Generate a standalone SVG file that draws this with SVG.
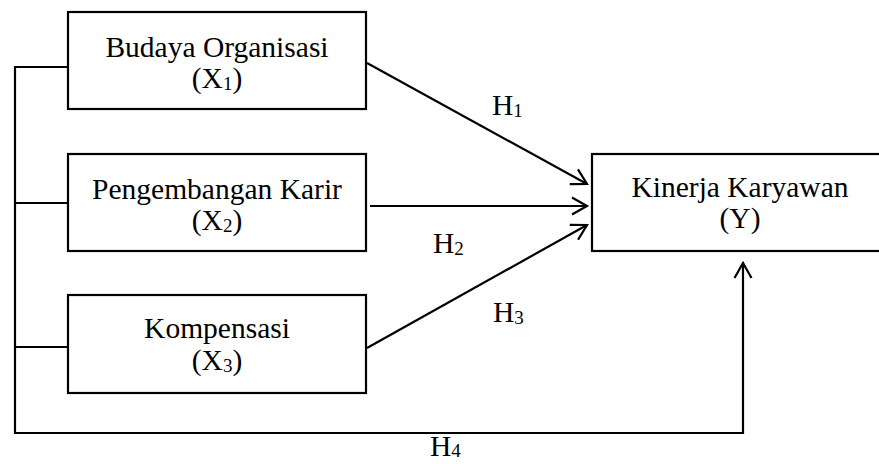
<svg xmlns="http://www.w3.org/2000/svg" width="879" height="464" viewBox="0 0 879 464">
<style>
.box{fill:#fff;stroke:#000;stroke-width:2.2}
.t{font-family:"Liberation Serif","Times New Roman",serif;font-size:29.5px;fill:#000;text-anchor:middle}
.h{font-family:"Liberation Serif","Times New Roman",serif;font-size:29.5px;fill:#000}
.sub{font-size:19px}
.ln{fill:none;stroke:#000;stroke-width:2.2}
</style>
<defs>
<marker id="arr" markerUnits="userSpaceOnUse" markerWidth="30" markerHeight="30" viewBox="-20 -15 30 30" refX="0" refY="0" orient="auto">
<path d="M-15,-8.5 L0,0 L-15,8.5" fill="none" stroke="#000" stroke-width="2.2"/>
</marker>
</defs>
<rect width="879" height="464" fill="#fff"/>
<g id="connectors">
<path class="ln" d="M15,67 L15,433 L743,433"/>
<line class="ln" x1="14" y1="67" x2="68" y2="67"/>
<line class="ln" x1="15" y1="203" x2="68" y2="203"/>
<line class="ln" x1="15" y1="347" x2="68" y2="347"/>
<line class="ln" x1="367" y1="63" x2="587" y2="184" marker-end="url(#arr)"/>
<line class="ln" x1="370" y1="206" x2="587" y2="206" marker-end="url(#arr)"/>
<line class="ln" x1="367" y1="348" x2="587" y2="225" marker-end="url(#arr)"/>
<line class="ln" x1="743" y1="434" x2="743" y2="263" marker-end="url(#arr)"/>
<text class="h" x="492" y="115">H<tspan class="sub" dy="2">1</tspan></text>
<text class="h" x="433" y="253">H<tspan class="sub" dy="2">2</tspan></text>
<text class="h" x="493" y="322">H<tspan class="sub" dy="2">3</tspan></text>
<text class="h" x="430" y="456">H<tspan class="sub" dy="1">4</tspan></text>
</g>
<g id="x1">
<rect class="box" x="68" y="12" width="298" height="97"/>
<text class="t" x="217" y="57">Budaya Organisasi</text>
<text class="t" x="217" y="88">(X<tspan class="sub" dy="2">1</tspan><tspan dy="-2">)</tspan></text>
</g>
<g id="x2">
<rect class="box" x="68" y="154" width="298" height="97"/>
<text class="t" x="217" y="199">Pengembangan Karir</text>
<text class="t" x="217" y="230">(X<tspan class="sub" dy="2">2</tspan><tspan dy="-2">)</tspan></text>
</g>
<g id="x3">
<rect class="box" x="68" y="295" width="298" height="98"/>
<text class="t" x="217" y="338">Kompensasi</text>
<text class="t" x="217" y="370">(X<tspan class="sub" dy="2">3</tspan><tspan dy="-2">)</tspan></text>
</g>
<g id="y">
<rect class="box" x="592" y="154" width="298" height="97"/>
<text class="t" x="740" y="197">Kinerja Karyawan</text>
<text class="t" x="740" y="228">(Y)</text>
</g>
</svg>
